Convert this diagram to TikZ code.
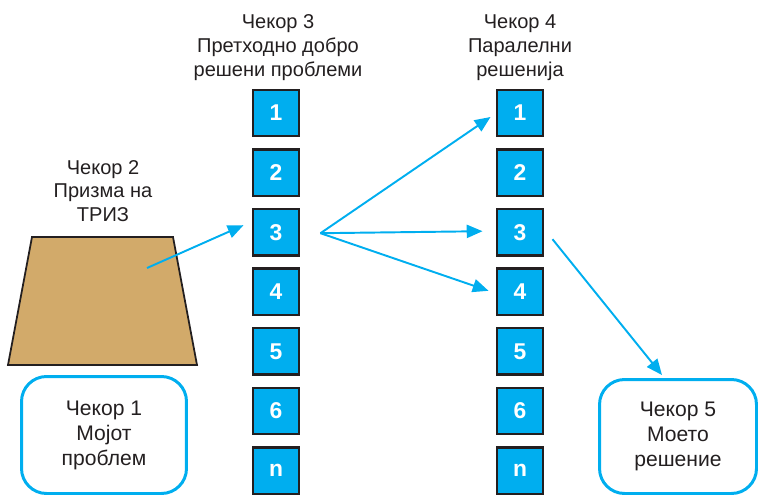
\documentclass[tikz,border=0pt]{standalone}
\usepackage{fontspec}
\setmainfont{Liberation Sans}
\usetikzlibrary{arrows.meta,positioning,calc}
\definecolor{stepblue}{RGB}{0,174,239}
\definecolor{darkline}{RGB}{35,31,32}
\definecolor{prismtan}{RGB}{210,170,106}

\begin{document}
\begin{tikzpicture}[x=0.02cm, y=-0.02cm,
    cell/.style={rectangle, draw=darkline, fill=stepblue, line width=1.4pt,
                 minimum size=0.93cm, inner sep=0pt, text=white,
                 font=\fontsize{13}{15}\selectfont\bfseries},
    caption/.style={align=center, text=darkline, inner sep=0pt,
                    font=\fontsize{11.4}{13.6}\selectfont},
    goal/.style={rectangle, rounded corners=0.5cm, draw=stepblue, line width=1.7pt,
                 align=center, text=darkline, font=\fontsize{12}{14.2}\selectfont},
    flow/.style={draw=stepblue, line width=1.1pt, -{Triangle[length=9pt,width=7.5pt]}}
]
    \useasboundingbox (0,0) rectangle (759,497);

    % Columns of numbered cells
    \foreach \lbl [count=\i] in {1,2,3,4,5,6,n} {
        \node[cell] (old\i) at (276, {53.4+59.6*\i}) {\lbl};
        \node[cell] (par\i) at (520, {53.4+59.6*\i}) {\lbl};
    }

    % Column headings
    \node[caption] (step3) at (278, 47.5) {Чекор 3\\Претходно добро\\решени проблеми};
    \node[caption] (step4) at (520, 47.5) {Чекор 4\\Паралелни\\решенија};

    % Prism
    \node[caption] (step2) at (103, 191) {Чекор 2\\Призма на\\ТРИЗ};
    \draw[draw=darkline, fill=prismtan, line width=1pt]
        (32,237) -- (173,237) -- (197,365) -- (8,365) -- cycle;
    \coordinate (prismin) at (147,268);

    % Problem and solution
    \node[goal, minimum width=3.30cm, minimum height=2.34cm] (problem) at (104,435)
        {Чекор 1\\Мојот\\проблем};
    \node[goal, minimum width=3.14cm, minimum height=2.28cm] (solution) at (678,436.5)
        {Чекор 5\\Моето\\решение};

    % Arrows
    \coordinate (fan) at ($(old3.east)+(20,1)$);
    \draw[flow] (prismin) -- ($(old3.west)+(-8,-7)$);
    \draw[flow] (fan) -- ($(par1.west)+(-5,4)$);
    \draw[flow] (fan) -- ($(par3.west)+(-13,-1)$);
    \draw[flow] (fan) -- ($(par4.west)+(-7,-1)$);
    \draw[flow] ($(par3.east)+(8,7)$) -- ($(solution.north)+(-16,-3)$);
\end{tikzpicture}
\end{document}
